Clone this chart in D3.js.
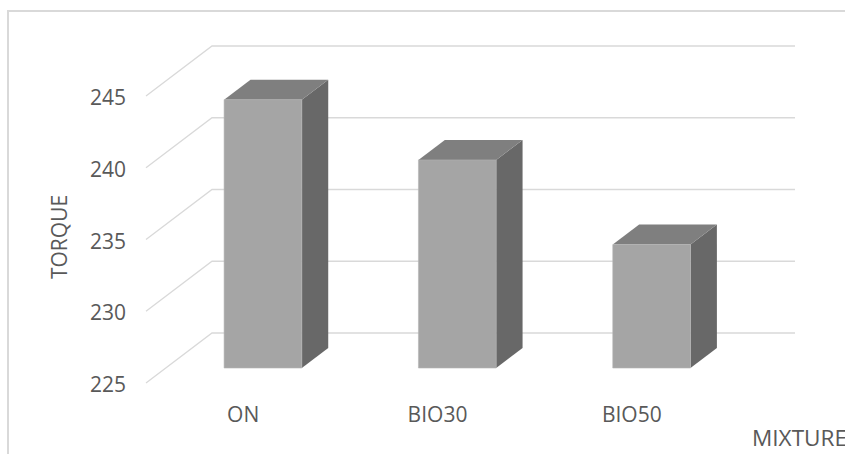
<!DOCTYPE html>
<html>
<head>
<meta charset="utf-8">
<script src="https://cdn.jsdelivr.net/npm/d3@7"></script>
<style>
  html, body { margin: 0; padding: 0; background: #ffffff; }
  svg { display: block; }
  text { font-family: "Open Sans", "Noto Sans", sans-serif; fill: #595959; }
</style>
</head>
<body>
<svg id="chart" width="845" height="454"></svg>
<script>
// Torque per fuel mixture
const categories = ["ON", "BIO30", "BIO50"];
const torque = [243.7, 239.5, 233.6];
const tickValues = [225, 230, 235, 240, 245];
const yTitle = "TORQUE";
const xTitle = "MIXTURE";

const svg = d3.select("#chart");
const W = 845, H = 454;
const fontSize = 21;

// oblique 3D projection: depth vector of the plot box
const depth = { dx: 66, dy: -50 };
const barZ0 = 0.3, barZ1 = 0.7;   // bar occupies the middle of the depth

const x = d3.scaleBand().domain(categories).range([146, 729])
  .paddingInner(0.6).paddingOuter(0.3);
const y = d3.scaleLinear().domain([225, 245]).range([383, 96]);

const px = (xv, z) => xv + z * depth.dx;
const py = (yv, z) => yv + z * depth.dy;

// chart area frame
svg.append("path")
  .attr("d", `M8,${H} L8,11 L${W},11`)
  .attr("fill", "none").attr("stroke", "#d9d9d9").attr("stroke-width", 2);

// gridlines: side wall diagonal + back wall horizontal
const grid = svg.append("g").attr("fill", "none").attr("stroke", "#d9d9d9").attr("stroke-width", 1.3);
tickValues.forEach(t => {
  const yf = y(t);
  grid.append("path").attr("d",
    `M${px(146, 0)},${py(yf, 0)} L${px(146, 1)},${py(yf, 1)} L${px(729, 1)},${py(yf, 1)}`);
});

// value axis labels
svg.append("g").selectAll("text").data(tickValues).join("text")
  .attr("x", 126).attr("y", d => y(d) + 1.5).attr("dy", "0.36em")
  .attr("text-anchor", "end").attr("font-size", fontSize)
  .text(d => d);

// 3D bars
const bars = svg.append("g");
categories.forEach((c, i) => {
  const x0 = x(c), x1 = x(c) + x.bandwidth();
  const yt = y(torque[i]), yb = y(225);
  const P = (xv, yv, z) => [px(xv, z), py(yv, z)];
  const poly = pts => "M" + pts.map(p => p.join(",")).join("L") + "Z";
  // right side face
  bars.append("path").attr("d", poly([P(x1, yt, barZ0), P(x1, yt, barZ1), P(x1, yb, barZ1), P(x1, yb, barZ0)]))
    .attr("fill", "#686868");
  // top face
  bars.append("path").attr("d", poly([P(x0, yt, barZ0), P(x0, yt, barZ1), P(x1, yt, barZ1), P(x1, yt, barZ0)]))
    .attr("fill", "#7f7f7f");
  // front face
  bars.append("path").attr("d", poly([P(x0, yt, barZ0), P(x1, yt, barZ0), P(x1, yb, barZ0), P(x0, yb, barZ0)]))
    .attr("fill", "#a5a5a5").attr("stroke", "#b4b4b4").attr("stroke-width", 0.6);
});

// category labels
svg.append("g").selectAll("text").data(categories).join("text")
  .attr("x", d => x(d) + x.bandwidth() / 2).attr("y", 414.5).attr("dy", "0.36em")
  .attr("text-anchor", "middle").attr("font-size", fontSize)
  .text(d => d);

// axis titles
svg.append("text")
  .attr("transform", "translate(59,237) rotate(-90)")
  .attr("text-anchor", "middle").attr("dy", "0.36em").attr("font-size", fontSize)
  .text(yTitle);
svg.append("text")
  .attr("x", 752).attr("y", 438.5).attr("dy", "0.36em").attr("font-size", fontSize)
  .attr("textLength", 95).attr("lengthAdjust", "spacingAndGlyphs")
  .text(xTitle);
</script>
</body>
</html>
